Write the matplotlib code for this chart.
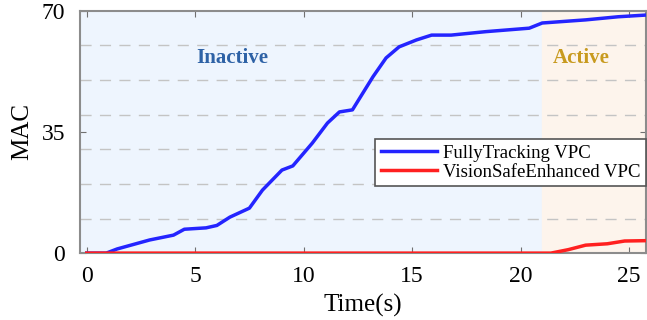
import numpy as np
from matplotlib import pyplot as plt

# curves
t_full = [0, 0.9, 1.4, 2.9, 4.0, 4.5, 5.5, 6.0, 6.6, 7.5, 8.1, 9.0, 9.5, 10.4, 11.1, 11.65, 12.25,
          13.2, 13.8, 14.4, 15.2, 15.9, 16.8, 18.4, 20.4, 21.0, 23.0, 24.5, 25.8]
mac_full = [0, 0, 1.2, 3.8, 5.2, 6.9, 7.3, 8.0, 10.4, 13.0, 18.2, 24.0, 25.2, 31.8, 37.6, 40.8, 41.4,
            51.0, 56.4, 59.6, 61.6, 63.0, 63.0, 64.0, 65.0, 66.5, 67.4, 68.3, 68.8]
t_safe = [0, 21.4, 22.2, 23.0, 24.0, 24.8, 25.8]
mac_safe = [0, 0, 1.0, 2.3, 2.7, 3.5, 3.6]

x_range = (-0.3, 25.8)
switch_time = 21.0
y_ticks = [0, 35, 70]
grid_levels = [10, 20, 30, 40, 50, 60]

plt.rcParams['font.family'] = ['Liberation Serif', 'DejaVu Serif']

fig = plt.figure(figsize=(6.47, 3.2), dpi=100)
ax = fig.add_axes([0.124, 0.209, 0.875, 0.757])

ax.axvspan(x_range[0], switch_time, color='#EEF5FE', zorder=0)
ax.axvspan(switch_time, x_range[1], color='#FDF4EC', zorder=0)

for g in grid_levels:
	ax.axhline(g, color='#C4C4C4', lw=1, ls=(0, (8, 6)), zorder=1)

ax.plot(t_full, mac_full, color='#2424FF', lw=2.5, label='FullyTracking VPC', zorder=3)
ax.plot(t_safe, mac_safe, color='#FF2020', lw=2.5, label='VisionSafeEnhanced VPC', zorder=3)

ax.text(6.7, 56.5, 'Inactive', color='#2E62A6', fontsize=15, fontweight='bold', ha='center', va='center')
ax.text(22.8, 56.5, 'Active', color='#C89A1E', fontsize=15, fontweight='bold', ha='center', va='center')

ax.set_xlim(*x_range)
ax.set_ylim(0, 70)
ax.set_xticks([0, 5, 10, 15, 20, 25])
ax.set_yticks(y_ticks)
ax.tick_params(direction='in', length=4, color='#707070', labelsize=17, top=True, right=True)
ax.tick_params(axis='x', pad=9)
ax.tick_params(axis='y', pad=11)
for s in ax.spines.values():
	s.set_color('#8C8C8C')
	s.set_linewidth(1.5)

ax.set_xlabel('Time(s)', fontsize=18, labelpad=5)
ax.set_ylabel('MAC', fontsize=18, labelpad=6)

leg = ax.legend(loc='upper left', bbox_to_anchor=(0.505, 0.51), fontsize=13.5, frameon=True,
	fancybox=False, handlelength=3.0, handletextpad=0.3, borderpad=0.3, labelspacing=0.1)
leg.get_frame().set_edgecolor('#555555')
leg.get_frame().set_linewidth(1.2)
leg.get_frame().set_alpha(1)

fig.savefig('out.png', dpi=100)
